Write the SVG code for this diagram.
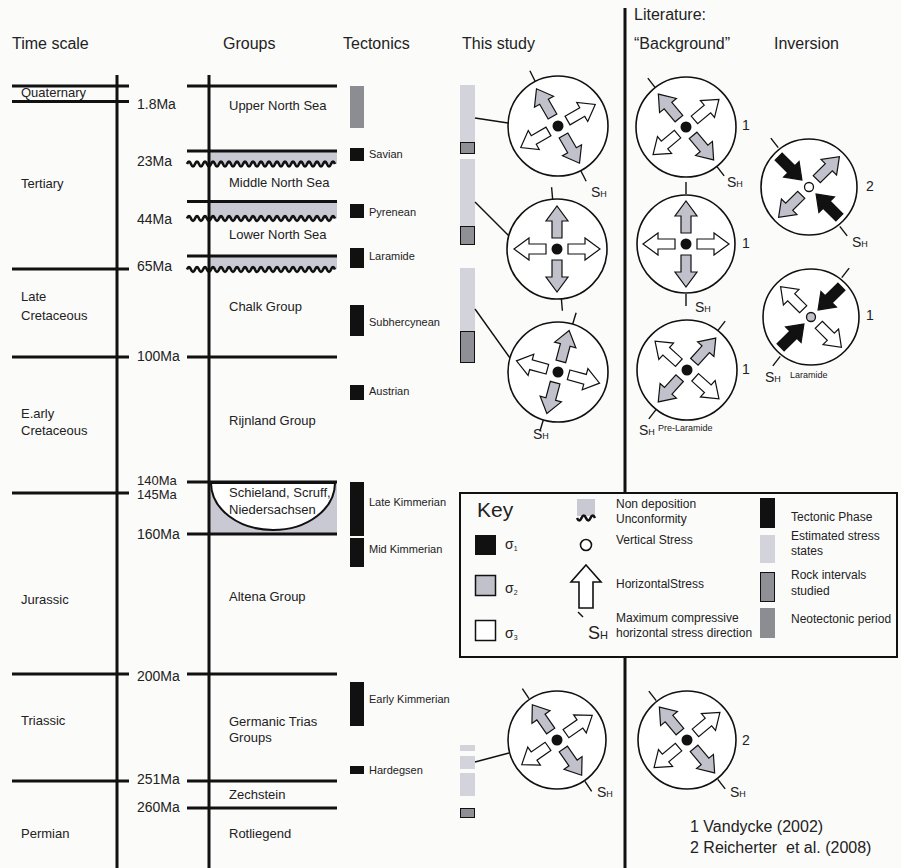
<svg xmlns="http://www.w3.org/2000/svg" xmlns:xlink="http://www.w3.org/1999/xlink" width="901" height="868" viewBox="0 0 901 868">
<style>
text{font-family:"Liberation Sans",Arial,sans-serif;fill:#222}
.h{font-size:16px}
.t{font-size:13px}
.ma{font-size:14px}
.tk{font-size:11px}
.ky{font-size:12px}
.sm{font-size:9px}
.num{font-size:14px}
.ref{font-size:16px}
.ln{stroke:#111;stroke-width:3;fill:none}
.wv{stroke:#111;stroke-width:2.6;fill:none}
.thin{stroke:#111;stroke-width:1.4;fill:none}
.circ{fill:#fff;stroke:#111;stroke-width:1.6}
.g{fill:#c0c1ca;stroke:#111;stroke-width:1.2}
.w{fill:#fff;stroke:#111;stroke-width:1.2}
.k{fill:#111;stroke:#111;stroke-width:1.2}
.nd{fill:#c9c9d3}
.lt{fill:#d3d3db}
.dk{fill:#8f9096;stroke:#111;stroke-width:1}
.neo{fill:#8b8d92}
.blk{fill:#111}
</style>
<defs>
<path id="out" d="M-5,-11 L-5,-28 L-11,-28 L0,-43 L11,-28 L5,-28 L5,-11 Z"/>
<path id="in" d="M-5,-43 L-5,-25 L-11,-25 L0,-10 L11,-25 L5,-25 L5,-43 Z"/>
<g id="tick"><line x1="0" y1="-50" x2="0" y2="-62" stroke="#111" stroke-width="1.4"/><line x1="0" y1="50" x2="0" y2="62" stroke="#111" stroke-width="1.4"/></g>
</defs>
<rect width="901" height="868" fill="#fbfbfa"/>

<g id="headers">
<text class="h" x="12" y="49">Time scale</text>
<text class="h" x="223" y="49">Groups</text>
<text class="h" x="343" y="49">Tectonics</text>
<text class="h" x="462" y="49">This study</text>
<text class="h" x="634" y="20">Literature:</text>
<text class="h" x="634" y="49">“Background”</text>
<text class="h" x="774" y="49">Inversion</text>
</g>

<g id="divider"><line x1="625" y1="8" x2="625" y2="868" stroke="#111" stroke-width="3"/></g>

<g id="timescale">
<line class="ln" x1="117" y1="75" x2="117" y2="868"/>
<line class="ln" x1="12" y1="86" x2="129" y2="86"/>
<line class="ln" x1="12" y1="101.5" x2="129" y2="101.5"/>
<line class="ln" x1="12" y1="269" x2="129" y2="269"/>
<line class="ln" x1="12" y1="357" x2="129" y2="357"/>
<line class="ln" x1="12" y1="493" x2="129" y2="493"/>
<line class="ln" x1="12" y1="674" x2="129" y2="674"/>
<line class="ln" x1="12" y1="781" x2="129" y2="781"/>
<text class="t" x="21" y="97">Quaternary</text>
<text class="t" x="21" y="188">Tertiary</text>
<text class="t" x="21" y="301">Late</text>
<text class="t" x="21" y="320">Cretaceous</text>
<text class="t" x="21" y="418">E.arly</text>
<text class="t" x="21" y="435">Cretaceous</text>
<text class="t" x="21" y="604">Jurassic</text>
<text class="t" x="21" y="725">Triassic</text>
<text class="t" x="21" y="838">Permian</text>
</g>

<g id="ages">
<text class="ma" x="137" y="109">1.8Ma</text>
<text class="ma" x="137" y="166">23Ma</text>
<text class="ma" x="137" y="224">44Ma</text>
<text class="ma" x="137" y="271">65Ma</text>
<text class="ma" x="137" y="361">100Ma</text>
<text x="137" y="485" font-size="13">140Ma</text>
<text x="137" y="499" font-size="13">145Ma</text>
<text class="ma" x="137" y="539">160Ma</text>
<text class="ma" x="137" y="681">200Ma</text>
<text class="ma" x="137" y="784">251Ma</text>
<text class="ma" x="137" y="812">260Ma</text>
</g>

<g id="groups">
<rect class="nd" x="209" y="151" width="128" height="13"/>
<rect class="nd" x="209" y="201.5" width="128" height="17"/>
<rect class="nd" x="209" y="256" width="128" height="13"/>
<rect class="nd" x="209" y="482" width="128" height="52"/>
<path d="M211,483 A62,47 0 0 0 335,483 Z" fill="#fff" stroke="#111" stroke-width="2"/>
<line class="ln" x1="209" y1="75" x2="209" y2="868"/>
<line class="ln" x1="187" y1="86" x2="337" y2="86"/>
<line class="ln" x1="187" y1="151" x2="337" y2="151"/>
<path class="wv" d="M187,164 q2,-5 4,0 t4,0 t4,0 t4,0 t4,0 t4,0 t4,0 t4,0 t4,0 t4,0 t4,0 t4,0 t4,0 t4,0 t4,0 t4,0 t4,0 t4,0 t4,0 t4,0 t4,0 t4,0 t4,0 t4,0 t4,0 t4,0 t4,0 t4,0 t4,0 t4,0 t4,0 t4,0 t4,0 t4,0 t4,0 t4,0 t4,0"/>
<line class="ln" x1="187" y1="201.5" x2="337" y2="201.5"/>
<path class="wv" d="M187,218.5 q2,-5 4,0 t4,0 t4,0 t4,0 t4,0 t4,0 t4,0 t4,0 t4,0 t4,0 t4,0 t4,0 t4,0 t4,0 t4,0 t4,0 t4,0 t4,0 t4,0 t4,0 t4,0 t4,0 t4,0 t4,0 t4,0 t4,0 t4,0 t4,0 t4,0 t4,0 t4,0 t4,0 t4,0 t4,0 t4,0 t4,0 t4,0"/>
<line class="ln" x1="187" y1="256" x2="337" y2="256"/>
<path class="wv" d="M187,269.5 q2,-5 4,0 t4,0 t4,0 t4,0 t4,0 t4,0 t4,0 t4,0 t4,0 t4,0 t4,0 t4,0 t4,0 t4,0 t4,0 t4,0 t4,0 t4,0 t4,0 t4,0 t4,0 t4,0 t4,0 t4,0 t4,0 t4,0 t4,0 t4,0 t4,0 t4,0 t4,0 t4,0 t4,0 t4,0 t4,0 t4,0 t4,0"/>
<line class="ln" x1="187" y1="357" x2="337" y2="357"/>
<line class="ln" x1="187" y1="482" x2="337" y2="482"/>
<line class="ln" x1="187" y1="534" x2="337" y2="534"/>
<line class="ln" x1="187" y1="674" x2="337" y2="674"/>
<line class="ln" x1="187" y1="781" x2="337" y2="781"/>
<line class="ln" x1="187" y1="808" x2="337" y2="808"/>
<text class="t" x="229" y="110">Upper North Sea</text>
<text class="t" x="229" y="187">Middle North Sea</text>
<text class="t" x="229" y="239">Lower North Sea</text>
<text class="t" x="229" y="311">Chalk Group</text>
<text class="t" x="229" y="425">Rijnland Group</text>
<text class="t" x="229" y="497">Schieland, Scruff,</text>
<text class="t" x="229" y="514">Niedersachsen</text>
<text class="t" x="229" y="601">Altena Group</text>
<text class="t" x="229" y="726">Germanic Trias</text>
<text class="t" x="229" y="742">Groups</text>
<text class="t" x="229" y="799">Zechstein</text>
<text class="t" x="229" y="838">Rotliegend</text>
</g>

<g id="tectonics">
<rect class="neo" x="350" y="86" width="14" height="42"/>
<rect class="blk" x="350" y="148" width="14" height="13"/>
<rect class="blk" x="350" y="204" width="14" height="14"/>
<rect class="blk" x="350" y="248" width="14" height="20"/>
<rect class="blk" x="350" y="305" width="14" height="31"/>
<rect class="blk" x="350" y="385" width="14" height="15"/>
<rect class="blk" x="350" y="482" width="14" height="54"/>
<rect class="blk" x="350" y="538" width="14" height="29"/>
<rect class="blk" x="350" y="682" width="14" height="44"/>
<rect class="blk" x="350" y="766" width="14" height="8"/>
<text class="tk" x="369" y="158">Savian</text>
<text class="tk" x="369" y="216">Pyrenean</text>
<text class="tk" x="369" y="260">Laramide</text>
<text class="tk" x="369" y="326">Subhercynean</text>
<text class="tk" x="369" y="395">Austrian</text>
<text class="tk" x="369" y="506">Late Kimmerian</text>
<text class="tk" x="369" y="553">Mid Kimmerian</text>
<text class="tk" x="369" y="703">Early Kimmerian</text>
<text class="tk" x="369" y="774">Hardegsen</text>
</g>

<g id="study-bars">
<rect class="lt" x="460" y="85" width="15" height="57"/>
<rect class="dk" x="460.5" y="142.5" width="14" height="11"/>
<rect class="lt" x="460" y="159" width="15" height="67"/>
<rect class="dk" x="460.5" y="226.5" width="14" height="18"/>
<rect class="lt" x="460" y="268" width="15" height="63"/>
<rect class="dk" x="460.5" y="331.5" width="14" height="31"/>
<rect class="lt" x="460" y="745" width="15" height="6"/>
<rect class="lt" x="460" y="756" width="15" height="13"/>
<rect class="lt" x="460" y="773" width="15" height="23"/>
<rect class="dk" x="460.5" y="808.5" width="14" height="9"/>
</g>

<g id="connectors">
<line class="thin" x1="475" y1="118" x2="508" y2="123"/>
<line class="thin" x1="475" y1="202" x2="510" y2="237"/>
<line class="thin" x1="475" y1="309" x2="510" y2="358"/>
<line class="thin" x1="475" y1="762" x2="509" y2="753"/>
</g>

<g id="study-1" transform="translate(558,126)">
<circle class="circ" r="50"/>
<use href="#tick" transform="rotate(-27)"/>
<use href="#out" class="g" transform="rotate(-30)"/>
<use href="#out" class="g" transform="rotate(150)"/>
<use href="#out" class="w" transform="rotate(60)"/>
<use href="#out" class="w" transform="rotate(240)"/>
<circle r="5.5" fill="#111"/>
</g>
<text id="sh-s1" x="591" y="197" font-size="14">S<tspan font-size="9">H</tspan></text>

<g id="study-2" transform="translate(557,249)">
<circle class="circ" r="50"/>
<use href="#tick" transform="rotate(-5)"/>
<use href="#out" class="g"/>
<use href="#out" class="g" transform="rotate(180)"/>
<use href="#out" class="w" transform="rotate(90)"/>
<use href="#out" class="w" transform="rotate(270)"/>
<circle r="5.5" fill="#111"/>
</g>

<g id="study-3" transform="translate(558,372)">
<circle class="circ" r="50"/>
<use href="#tick" transform="rotate(17)"/>
<use href="#out" class="g" transform="rotate(15)"/>
<use href="#out" class="g" transform="rotate(195)"/>
<use href="#out" class="w" transform="rotate(105)"/>
<use href="#out" class="w" transform="rotate(285)"/>
<circle r="5.5" fill="#111"/>
</g>
<text id="sh-s3" x="533" y="439" font-size="14">S<tspan font-size="9">H</tspan></text>

<g id="study-4" transform="translate(557,740)">
<circle class="circ" r="49"/>
<use href="#tick" transform="rotate(-34)"/>
<use href="#out" class="g" transform="rotate(-35)"/>
<use href="#out" class="g" transform="rotate(145)"/>
<use href="#out" class="w" transform="rotate(55)"/>
<use href="#out" class="w" transform="rotate(235)"/>
<circle r="5.5" fill="#111"/>
</g>
<text id="sh-s4" x="597" y="797" font-size="14">S<tspan font-size="9">H</tspan></text>

<g id="bg-1" transform="translate(686,127)">
<circle class="circ" r="50"/>
<use href="#tick" transform="rotate(-38)"/>
<use href="#out" class="g" transform="rotate(-40)"/>
<use href="#out" class="g" transform="rotate(140)"/>
<use href="#out" class="w" transform="rotate(50)"/>
<use href="#out" class="w" transform="rotate(230)"/>
<circle r="5.5" fill="#111"/>
</g>
<text x="727" y="187" font-size="14">S<tspan font-size="9">H</tspan></text>
<text class="num" x="742" y="130">1</text>

<g id="bg-2" transform="translate(686,244)">
<circle class="circ" r="49"/>
<use href="#tick"/>
<use href="#out" class="g"/>
<use href="#out" class="g" transform="rotate(180)"/>
<use href="#out" class="w" transform="rotate(90)"/>
<use href="#out" class="w" transform="rotate(270)"/>
<circle r="5.5" fill="#111"/>
</g>
<text x="695" y="312" font-size="14">S<tspan font-size="9">H</tspan></text>
<text class="num" x="742" y="248">1</text>

<g id="bg-3" transform="translate(687,370)">
<circle class="circ" r="50"/>
<use href="#tick" transform="rotate(38)"/>
<use href="#out" class="g" transform="rotate(42)"/>
<use href="#out" class="g" transform="rotate(222)"/>
<use href="#out" class="w" transform="rotate(132)"/>
<use href="#out" class="w" transform="rotate(312)"/>
<circle r="5.5" fill="#111"/>
</g>
<text x="639" y="435" font-size="14">S<tspan font-size="9">H</tspan></text>
<text class="sm" x="658" y="431">Pre-Laramide</text>
<text class="num" x="742" y="374">1</text>

<g id="bg-4" transform="translate(687,740)">
<circle class="circ" r="49"/>
<use href="#tick" transform="rotate(-38)"/>
<use href="#out" class="g" transform="rotate(-40)"/>
<use href="#out" class="g" transform="rotate(140)"/>
<use href="#out" class="w" transform="rotate(50)"/>
<use href="#out" class="w" transform="rotate(230)"/>
<circle r="5.5" fill="#111"/>
</g>
<text x="730" y="797" font-size="14">S<tspan font-size="9">H</tspan></text>
<text class="num" x="742" y="745">2</text>

<g id="inv-1" transform="translate(809,187)">
<circle class="circ" r="48"/>
<use href="#tick" transform="rotate(-38)"/>
<use href="#in" class="k" transform="rotate(-45)"/>
<use href="#in" class="k" transform="rotate(135)"/>
<use href="#out" class="g" transform="rotate(45)"/>
<use href="#out" class="g" transform="rotate(225)"/>
<circle r="4.5" fill="#fff" stroke="#111" stroke-width="1.3"/>
</g>
<text x="852" y="247" font-size="14">S<tspan font-size="9">H</tspan></text>
<text class="num" x="866" y="191">2</text>

<g id="inv-2" transform="translate(811,317)">
<circle class="circ" r="48"/>
<use href="#tick" transform="rotate(38)"/>
<use href="#in" class="k" transform="rotate(45)"/>
<use href="#in" class="k" transform="rotate(225)"/>
<use href="#out" class="w" transform="rotate(-45)"/>
<use href="#out" class="w" transform="rotate(135)"/>
<circle r="4.5" fill="#c0c1ca" stroke="#111" stroke-width="1.3"/>
</g>
<text x="765" y="382" font-size="14">S<tspan font-size="9">H</tspan></text>
<text class="sm" x="790" y="378">Laramide</text>
<text class="num" x="866" y="320">1</text>

<g id="key">
<rect x="460" y="493" width="437" height="164" fill="#fbfbfa" stroke="#111" stroke-width="2"/>
<text x="477" y="517" font-size="21">Key</text>
<rect x="475" y="535" width="21" height="20" fill="#111"/>
<rect x="475.5" y="575.5" width="20" height="20" fill="#c0c1ca" stroke="#111" stroke-width="1.5"/>
<rect x="475.5" y="620.5" width="20" height="20" fill="#fff" stroke="#111" stroke-width="1.5"/>
<text x="505" y="549" font-size="14">σ<tspan font-size="7" dy="2">1</tspan></text>
<text x="505" y="593" font-size="14">σ<tspan font-size="7" dy="2">2</tspan></text>
<text x="505" y="638" font-size="14">σ<tspan font-size="7" dy="2">3</tspan></text>
<rect class="nd" x="577" y="499" width="18" height="17"/>
<path class="wv" d="M577,518 q2.25,5 4.5,0 t4.5,0 t4.5,0 t4.5,0" stroke-width="2.4"/>
<circle cx="586" cy="545" r="5.5" fill="#fff" stroke="#111" stroke-width="1.6"/>
<path d="M586,565 L601,582 L593,582 L593,608 L579,608 L579,582 L571,582 Z" fill="#fff" stroke="#111" stroke-width="1.6"/>
<line x1="578" y1="612" x2="583" y2="617" stroke="#111" stroke-width="1.4"/>
<text x="588" y="639" font-size="18">S<tspan font-size="11">H</tspan></text>
<text class="ky" x="616" y="508">Non deposition</text>
<text class="ky" x="616" y="523">Unconformity</text>
<text class="ky" x="616" y="544">Vertical Stress</text>
<text class="ky" x="616" y="588">HorizontalStress</text>
<text class="ky" x="616" y="622">Maximum compressive</text>
<text class="ky" x="616" y="637">horizontal stress direction</text>
<rect x="760" y="498" width="15" height="30" fill="#111"/>
<rect class="lt" x="760" y="535" width="15" height="28"/>
<rect class="dk" x="760.5" y="572.5" width="14" height="29"/>
<rect class="neo" x="760" y="608" width="15" height="30"/>
<text class="ky" x="791" y="521">Tectonic Phase</text>
<text class="ky" x="791" y="540">Estimated stress</text>
<text class="ky" x="791" y="555">states</text>
<text class="ky" x="791" y="579">Rock intervals</text>
<text class="ky" x="791" y="595">studied</text>
<text class="ky" x="791" y="623">Neotectonic period</text>
</g>

<g id="references">
<text class="ref" x="690" y="832">1 Vandycke (2002)</text>
<text class="ref" x="690" y="853" xml:space="preserve">2 Reicherter  et al. (2008)</text>
</g>
</svg>
